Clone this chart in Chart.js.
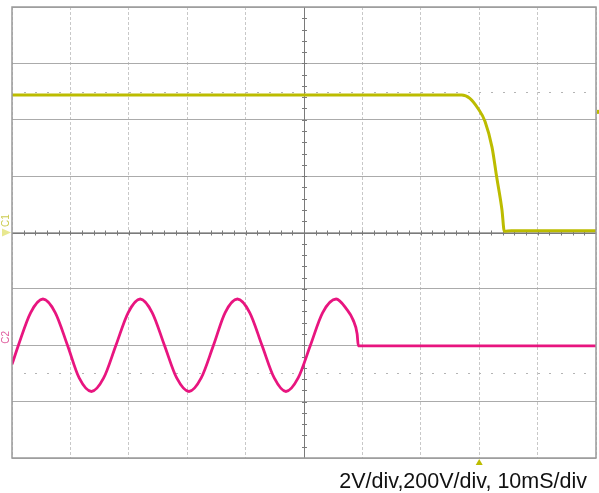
<!DOCTYPE html>
<html>
<head>
<meta charset="utf-8">
<script src="https://cdn.jsdelivr.net/npm/chart.js@4.4.1/dist/chart.umd.min.js"></script>
<style>
  html, body { margin: 0; padding: 0; background: #fff; }
  #wrap { width: 599px; height: 493px; position: relative; }
</style>
</head>
<body>
<div id="wrap"><canvas id="scope"></canvas></div>
<script>
// Kanal 1 (kuning), waktu dalam ms, nilai dalam divisi
const ch1Time  = [0, 77.0, 78.4, 79.8, 81.0, 82.2, 83.0, 83.9, 84.3, 85.5, 100];
const ch1Volts = [2.44, 2.44, 2.38, 2.20, 1.97, 1.51, 0.98, 0.40, 0.02, 0.03, 0.03];

// Kanal 2 (magenta)
const ch2Time  = [0, 1.1, 3.2, 5.3, 7.4, 9.5, 11.5, 13.6, 15.7, 17.8, 19.9, 21.95,
                  24.0, 26.1, 28.2, 30.3, 32.4, 34.5, 36.5, 38.6, 40.7, 42.8, 44.9,
                  46.9, 49.0, 51.1, 53.2, 55.5, 57.3, 58.4, 59.1, 59.3, 60.5, 100];
const ch2Volts = [-2.34, -2.0, -1.42, -1.18, -1.42, -2.0, -2.58, -2.82, -2.58, -2.0, -1.42, -1.18,
                  -1.42, -2.0, -2.58, -2.82, -2.58, -2.0, -1.42, -1.18, -1.42, -2.0, -2.58,
                  -2.82, -2.58, -2.0, -1.42, -1.18, -1.36, -1.55, -1.8, -2.01, -2.01, -2.01];

const xDivs = [0, 10, 20, 30, 40, 50, 60, 70, 80, 90, 100];
const yDivs = [-4, -3, -2, -1, 0, 1, 2, 3, 4];
const triggerTime = 80;
const triggerLevel = 2.14;
const caption = '2V/div,200V/div, 10mS/div';

const yellow = '#bcbc00';
const magenta = '#e8157f';

function toPoints(xs, ys) {
    return xs.map((x, i) => ({ x: x, y: ys[i] }));
}

const scopeDecor = {
    id: 'scopeDecor',
    beforeDatasetsDraw(chart) {
        const c = chart.ctx;
        const a = chart.chartArea;
        const sx = chart.scales.x;
        const sy = chart.scales.y;
        const cx = sx.getPixelForValue(50);
        const cy = sy.getPixelForValue(0);
        c.save();
        // garis titik pada +/-2.5 div
        c.fillStyle = '#b4b4b4';
        [2.5, -2.5].forEach(v => {
            const y = Math.round(sy.getPixelForValue(v));
            for (let t = 1; t < 50; t++) {
                const x = Math.round(sx.getPixelForValue(t * 2));
                c.fillRect(x, y, 2, 1);
            }
        });
        // garis tengah dengan tick kecil
        c.strokeStyle = '#7a7a7a';
        c.lineWidth = 1;
        c.beginPath();
        c.moveTo(a.left, Math.round(cy) + 0.5);
        c.lineTo(a.right, Math.round(cy) + 0.5);
        c.moveTo(Math.round(cx) + 0.5, a.top);
        c.lineTo(Math.round(cx) + 0.5, a.bottom);
        for (let t = 1; t < 50; t++) {
            const x = Math.round(sx.getPixelForValue(t * 2)) + 0.5;
            c.moveTo(x, cy - 2);
            c.lineTo(x, cy + 3);
        }
        for (let t = 1; t < 40; t++) {
            const y = Math.round(sy.getPixelForValue(-4 + t * 0.2)) + 0.5;
            c.moveTo(cx - 2, y);
            c.lineTo(cx + 3, y);
        }
        c.stroke();
        c.restore();
    },
    afterDraw(chart) {
        const c = chart.ctx;
        const a = chart.chartArea;
        const sx = chart.scales.x;
        const sy = chart.scales.y;
        c.save();
        // bingkai
        c.strokeStyle = '#9a9a9a';
        c.lineWidth = 1.5;
        c.strokeRect(a.left, a.top, a.right - a.left, a.bottom - a.top);
        // penanda trigger bawah
        const tx = sx.getPixelForValue(triggerTime);
        c.fillStyle = yellow;
        c.beginPath();
        c.moveTo(tx, a.bottom + 1);
        c.lineTo(tx - 3.5, a.bottom + 7);
        c.lineTo(tx + 3.5, a.bottom + 7);
        c.closePath();
        c.fill();
        // penanda level trigger kanan
        const ty = sy.getPixelForValue(triggerLevel);
        c.fillRect(a.right + 1, ty - 2, 3, 4);
        // penanda ground C1
        const gy = sy.getPixelForValue(0);
        c.fillStyle = '#e8e890';
        c.beginPath();
        c.moveTo(a.left - 1, gy);
        c.lineTo(a.left - 10, gy - 4);
        c.lineTo(a.left - 10, gy + 4);
        c.closePath();
        c.fill();
        // label kanal
        c.font = '10px "Liberation Sans", Arial, sans-serif';
        c.textAlign = 'center';
        c.textBaseline = 'middle';
        c.save();
        c.translate(6, gy - 12);
        c.rotate(-Math.PI / 2);
        c.fillStyle = '#cccc50';
        c.fillText('C1', 0, 0);
        c.restore();
        c.save();
        c.translate(6, sy.getPixelForValue(-1.86));
        c.rotate(-Math.PI / 2);
        c.fillStyle = '#e060a0';
        c.fillText('C2', 0, 0);
        c.restore();
        // keterangan skala
        c.font = '21.5px "Liberation Sans", Arial, sans-serif';
        c.fillStyle = '#111';
        c.textAlign = 'right';
        c.textBaseline = 'alphabetic';
        c.fillText(caption, 587, 488);
        c.restore();
    }
};

const config = {
    type: 'line',
    data: {
        datasets: [{
            label: 'C1',
            data: toPoints(ch1Time, ch1Volts),
            borderColor: yellow,
            borderWidth: 3,
            pointRadius: 0,
            cubicInterpolationMode: 'monotone'
        }, {
            label: 'C2',
            data: toPoints(ch2Time, ch2Volts),
            borderColor: magenta,
            borderWidth: 2.8,
            pointRadius: 0,
            cubicInterpolationMode: 'monotone'
        }]
    },
    options: {
        responsive: false,
        animation: false,
        layout: { padding: { left: 12, top: 7, right: 3, bottom: 35 } },
        plugins: {
            legend: { display: false },
            tooltip: { enabled: false }
        },
        scales: {
            x: {
                type: 'linear',
                min: 0,
                max: 100,
                afterBuildTicks: axis => { axis.ticks = xDivs.map(v => ({ value: v })); },
                ticks: { display: false },
                border: { display: false, dash: [3, 2] },
                grid: { color: '#c8c8c8', lineWidth: 1, drawTicks: false }
            },
            y: {
                type: 'linear',
                min: -4,
                max: 4,
                afterBuildTicks: axis => { axis.ticks = yDivs.map(v => ({ value: v })); },
                ticks: { display: false },
                border: { display: false },
                grid: { color: '#ababab', lineWidth: 1, drawTicks: false }
            }
        }
    },
    plugins: [scopeDecor]
};

const canvas = document.getElementById('scope');
canvas.width = 599;
canvas.height = 493;
new Chart(canvas.getContext('2d'), config);
</script>
</body>
</html>
